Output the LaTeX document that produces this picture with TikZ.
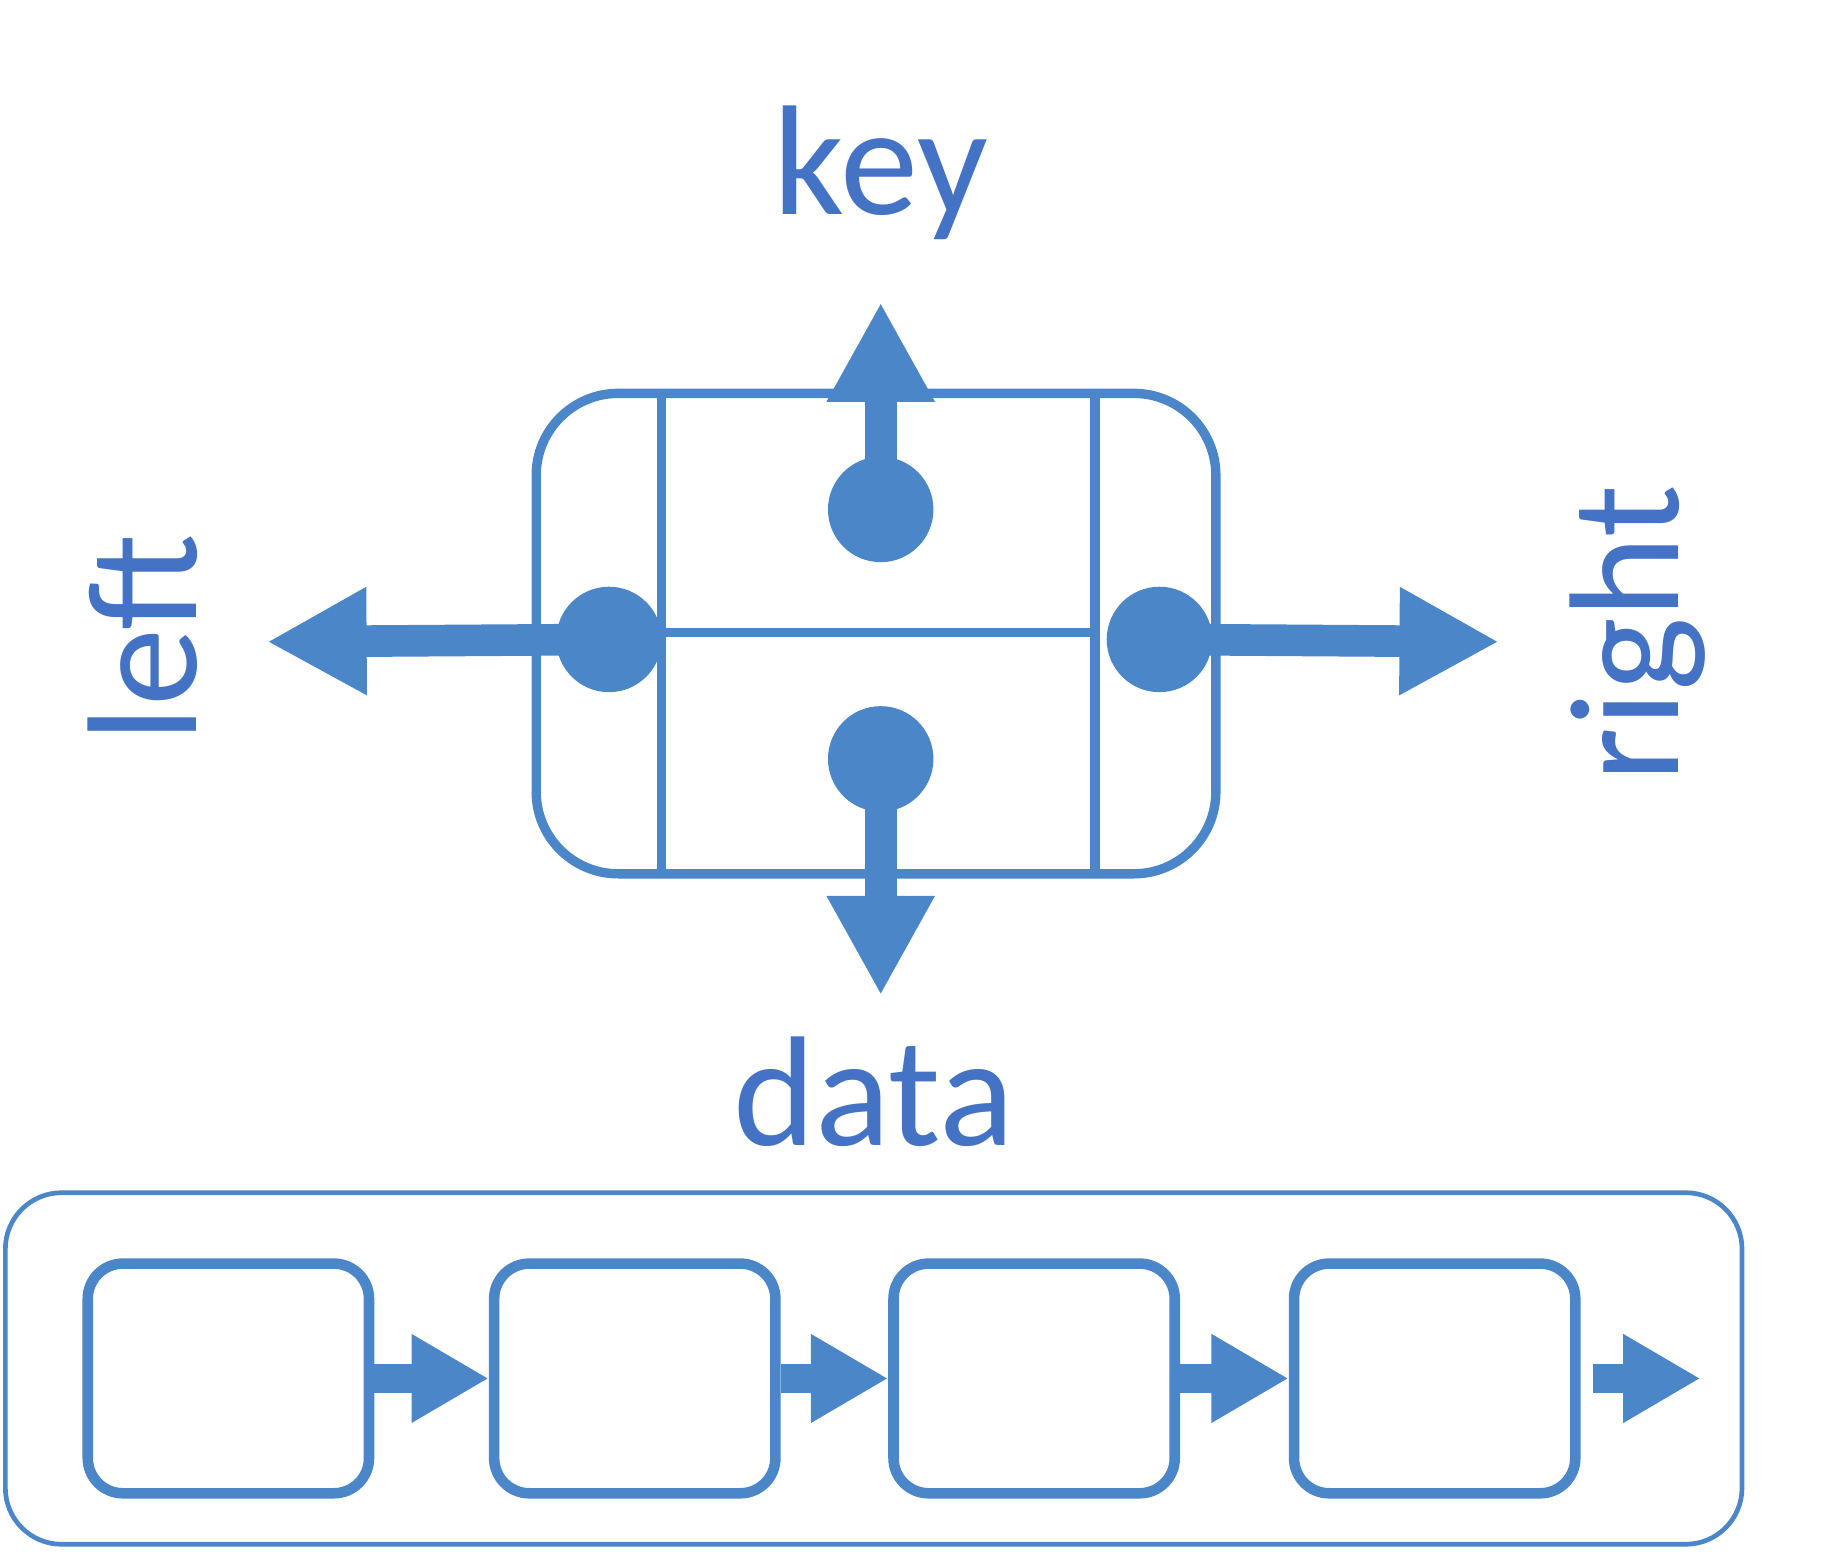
\documentclass[tikz,border=0pt]{standalone}
\usepackage{fontspec}
\setmainfont{Carlito}
\usetikzlibrary{arrows.meta}
\definecolor{shapeblue}{RGB}{74,134,200}
\definecolor{textblue}{RGB}{68,114,196}
\begin{document}
\begin{tikzpicture}[x=0.01cm,y=-0.01cm,
  lbl/.style={text=textblue,font=\fontsize{38}{40}\selectfont,inner sep=0pt,anchor=base},
  nodebox/.style={draw=shapeblue,line width=0.08cm,rounded corners=0.7cm,minimum width=5.8cm,minimum height=4.1cm,inner sep=0pt,outer sep=0pt},
  divider/.style={draw=shapeblue,line width=0.08cm},
  dot/.style={circle,fill=shapeblue,minimum size=0.9cm,inner sep=0pt},
  bigarrow/.style={draw=shapeblue,line width=0.27cm,-{Triangle[length=0.85cm,width=0.86cm]}},
  listbox/.style={draw=shapeblue,line width=0.04cm,rounded corners=0.48cm,minimum width=14.82cm,minimum height=3.0cm,inner sep=0pt},
  cell/.style={draw=shapeblue,line width=0.09cm,rounded corners=0.3cm,minimum width=2.4cm,minimum height=1.96cm,inner sep=0pt},
  smallarrow/.style={draw=shapeblue,line width=0.24cm,-{Triangle[length=0.66cm,width=0.71cm]}}]
\useasboundingbox (0,0) rectangle (1560,1325);

% labels
\node[lbl] (key) at (752,183) {key};
\node[lbl] (data) at (746,978) {data};
\node[lbl,rotate=90] (left) at (168,545) {left};
\node[lbl,rotate=90] (right) at (1433,541) {right};

% main node
\node[nodebox] (box) at (748,541) {};
\coordinate (vl) at (565,541);
\coordinate (vr) at (935,541);
\draw[divider] (box.north -| vl) -- (box.south -| vl);
\draw[divider] (box.north -| vr) -- (box.south -| vr);
\draw[divider] (vl |- 0,540) -- (vr |- 0,540);

% dots
\node[dot] (dkey) at (752,435) {};
\node[dot] (ddata) at (752,648) {};
\node[dot] (dleft) at (520,546) {};
\node[dot] (dright) at (990,546) {};

% arrow ends
\coordinate (tkey) at (752,258);
\coordinate (tdata) at (752,850);
\coordinate (tleft) at (228,548);
\coordinate (tright) at (1280,548);

\draw[bigarrow] (dkey.center) -- (tkey);
\draw[bigarrow] (ddata.center) -- (tdata);
\draw[bigarrow] (dleft.center) -- (tleft);
\draw[bigarrow] (dright.center) -- (tright);

% list
\node[listbox] (list) at (746,1168.5) {};
\node[cell] (c1) at (195,1177) {};
\node[cell] (c2) at (542,1177) {};
\node[cell] (c3) at (883,1177) {};
\node[cell] (c4) at (1225,1177) {};
\coordinate (cend) at (1452,1177);
\draw[smallarrow] (c1.east) -- (c2.west);
\draw[smallarrow] (c2.east) -- (c3.west);
\draw[smallarrow] (c3.east) -- (c4.west);
\draw[smallarrow] ([xshift=0.11cm]c4.east) -- (cend);
\end{tikzpicture}
\end{document}
